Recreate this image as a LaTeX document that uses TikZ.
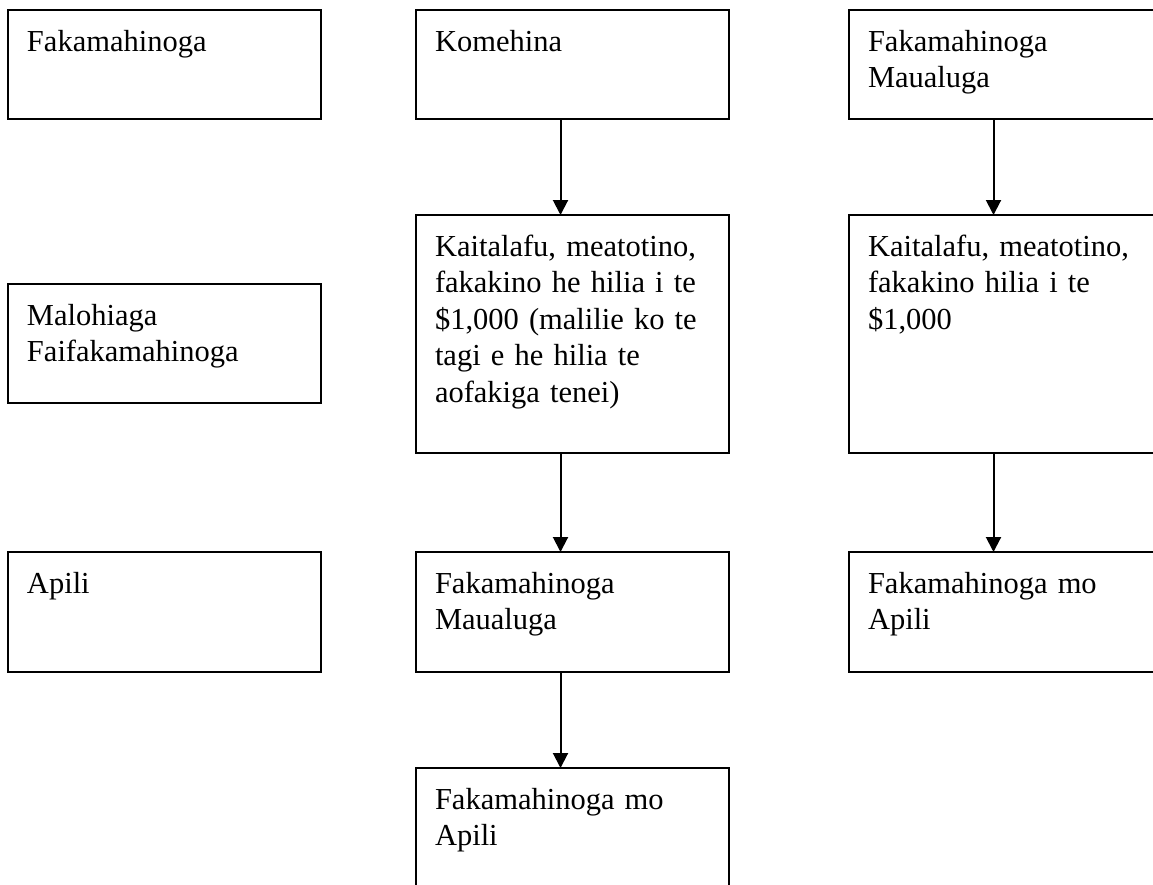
\documentclass[tikz,border=0pt]{standalone}
\usepackage{xcolor}
\usepackage{fontspec}
\setmainfont{Liberation Serif}
\usepackage{tikz}
\usetikzlibrary{positioning}
\usetikzlibrary{arrows.meta}

\begin{document}
\begin{tikzpicture}[x=1pt, y=-1pt]
			\tikzstyle{box} = [draw, line width=2pt, anchor=north west, inner xsep=19pt, inner ysep=0pt, outer sep=0pt, text width=275pt, align=left, text height=41pt, font=\fontsize{30.5}{36.6}\selectfont]
			\tikzstyle{shortbox} = [box, text depth=68pt]
			\tikzstyle{midbox} = [box, text depth=79pt]
			\tikzstyle{tallbox} = [box, text depth=197pt]
			\tikzstyle{line} = [draw, line width=2pt, -{Triangle[length=15pt, width=15pt]}]
			
			\clip (0,0) rectangle (1153,884);
			
			\node [shortbox] (fak) at (8,10) {Fakamahinoga};
			\node [shortbox, right=95pt of fak.north east, anchor=north west] (kom) {Komehina};
			\node [shortbox, right=120pt of kom.north east, anchor=north west] (mau) {Fakamahinoga\\Maualuga};
			
			\node [midbox, below=165pt of fak.south west, anchor=north west, text depth=78pt] (malo) {Malohiaga\\Faifakamahinoga};
			\node [tallbox, below=96pt of kom.south west, anchor=north west] (kait) {Kaitalafu, meatotino,\\fakakino he hilia i te\\\$1,000 (malilie ko te\\tagi e he hilia te\\aofakiga tenei)};
			\node [tallbox, below=96pt of mau.south west, anchor=north west] (kaitmau) {Kaitalafu, meatotino,\\fakakino hilia i te\\\$1,000};
			
			\node [midbox, below=149pt of malo.south west, anchor=north west] (apili) {Apili};
			\node [midbox, below=99pt of kait.south west, anchor=north west] (maukom) {Fakamahinoga\\Maualuga};
			\node [midbox, below=99pt of kaitmau.south west, anchor=north west] (apmau) {Fakamahinoga mo\\Apili};
			\node [midbox, below=96pt of maukom.south west, anchor=north west, text depth=85pt] (apkom) {Fakamahinoga mo\\Apili};
			
			\path [line] ([xshift=-12pt]kom.south) -- ([xshift=-12pt]kait.north);
			\path [line] ([xshift=-12pt]kait.south) -- ([xshift=-12pt]maukom.north);
			\path [line] ([xshift=-12pt]maukom.south) -- ([xshift=-12pt]apkom.north);
			\path [line] ([xshift=-12pt]mau.south) -- ([xshift=-12pt]kaitmau.north);
			\path [line] ([xshift=-12pt]kaitmau.south) -- ([xshift=-12pt]apmau.north);
\end{tikzpicture}
\end{document}
